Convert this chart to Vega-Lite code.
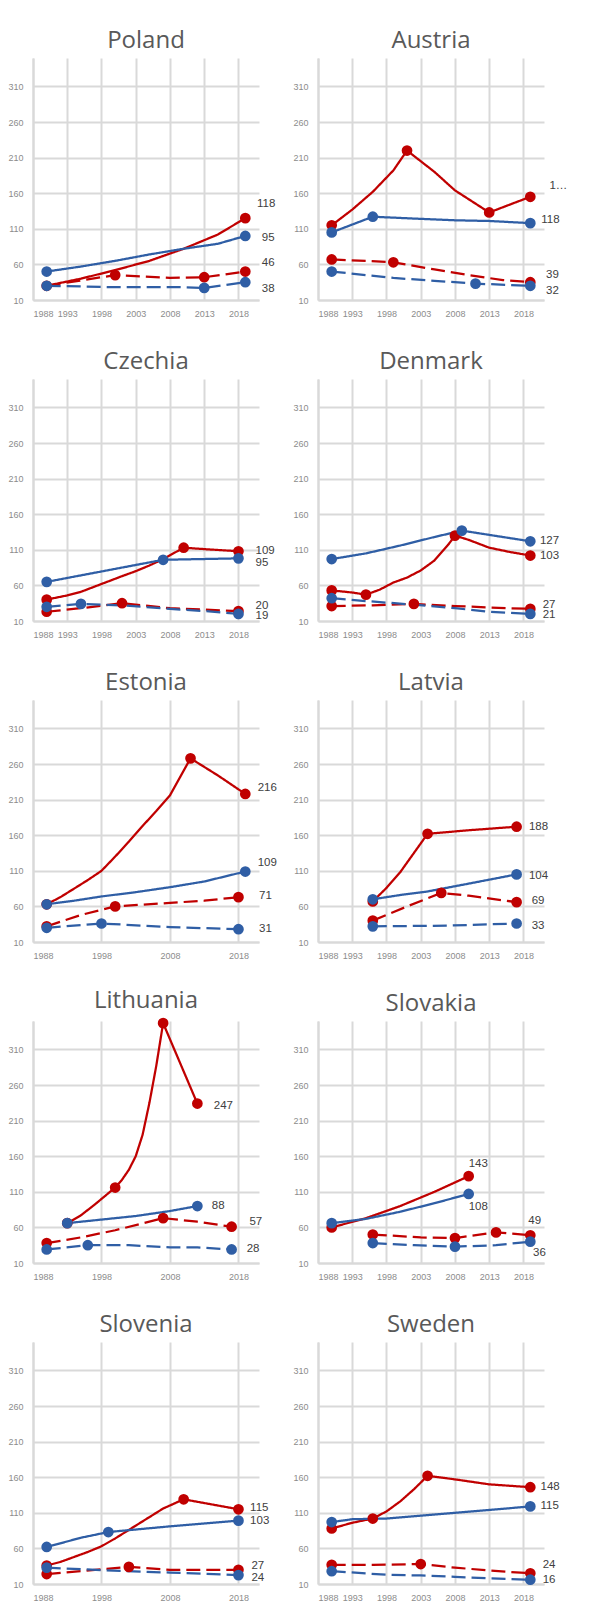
{
"$schema": "https://vega.github.io/schema/vega-lite/v6.json",
"padding": {"left": 7, "top": 29, "right": 5, "bottom": 5},
"background": "white",
"config": {
  "view": {"stroke": null},
  "font": "Liberation Sans",
  "title": {"font": "Open Sans", "fontSize": 24, "fontWeight": "normal", "color": "#595959", "offset": 5},
  "axis": {"gridColor": "#d9d9d9", "gridWidth": 2, "domainColor": "#d9d9d9", "domainWidth": 2, "ticks": false, "labelColor": "#8c8c8c", "labelFontSize": 9, "labelFont": "Liberation Sans", "grid": true},
  "axisY": {"labelPadding": 10},
  "axisX": {"labelPadding": 9}
},
"datasets": {
"lines": [
{"country":"Poland","series":"S1","year":1990,"value":30},{"country":"Poland","series":"S1","year":1995,"value":40},{"country":"Poland","series":"S1","year":2000,"value":52},{"country":"Poland","series":"S1","year":2005,"value":65},{"country":"Poland","series":"S1","year":2010,"value":82},{"country":"Poland","series":"S1","year":2015,"value":102},{"country":"Poland","series":"S1","year":2019,"value":125},
{"country":"Poland","series":"S2","year":1990,"value":50},{"country":"Poland","series":"S2","year":1995,"value":57},{"country":"Poland","series":"S2","year":2000,"value":65},{"country":"Poland","series":"S2","year":2005,"value":74},{"country":"Poland","series":"S2","year":2010,"value":82},{"country":"Poland","series":"S2","year":2015,"value":89},{"country":"Poland","series":"S2","year":2019,"value":100},
{"country":"Poland","series":"S3","year":1990,"value":30},{"country":"Poland","series":"S3","year":2000,"value":45},{"country":"Poland","series":"S3","year":2008,"value":41},{"country":"Poland","series":"S3","year":2013,"value":42},{"country":"Poland","series":"S3","year":2019,"value":50},
{"country":"Poland","series":"S4","year":1990,"value":30},{"country":"Poland","series":"S4","year":1995,"value":29},{"country":"Poland","series":"S4","year":2000,"value":28},{"country":"Poland","series":"S4","year":2005,"value":28},{"country":"Poland","series":"S4","year":2010,"value":28},{"country":"Poland","series":"S4","year":2013,"value":27},{"country":"Poland","series":"S4","year":2019,"value":35},

{"country":"Austria","series":"S1","year":1990,"value":115},{"country":"Austria","series":"S1","year":1993,"value":137},{"country":"Austria","series":"S1","year":1996,"value":162},{"country":"Austria","series":"S1","year":1999,"value":192},{"country":"Austria","series":"S1","year":2001,"value":220},{"country":"Austria","series":"S1","year":2005,"value":190},{"country":"Austria","series":"S1","year":2008,"value":164},{"country":"Austria","series":"S1","year":2013,"value":133},{"country":"Austria","series":"S1","year":2019,"value":155},
{"country":"Austria","series":"S2","year":1990,"value":105},{"country":"Austria","series":"S2","year":1996,"value":127},{"country":"Austria","series":"S2","year":2003,"value":124},{"country":"Austria","series":"S2","year":2008,"value":122},{"country":"Austria","series":"S2","year":2013,"value":121},{"country":"Austria","series":"S2","year":2019,"value":118},
{"country":"Austria","series":"S3","year":1990,"value":67},{"country":"Austria","series":"S3","year":1995,"value":65},{"country":"Austria","series":"S3","year":1999,"value":63},{"country":"Austria","series":"S3","year":2005,"value":53},{"country":"Austria","series":"S3","year":2010,"value":45},{"country":"Austria","series":"S3","year":2015,"value":38},{"country":"Austria","series":"S3","year":2019,"value":35},
{"country":"Austria","series":"S4","year":1990,"value":50},{"country":"Austria","series":"S4","year":1995,"value":45},{"country":"Austria","series":"S4","year":1999,"value":41},{"country":"Austria","series":"S4","year":2005,"value":37},{"country":"Austria","series":"S4","year":2011,"value":33},{"country":"Austria","series":"S4","year":2019,"value":30},

{"country":"Czechia","series":"S1","year":1990,"value":40},{"country":"Czechia","series":"S1","year":1993,"value":46},{"country":"Czechia","series":"S1","year":1995,"value":51},{"country":"Czechia","series":"S1","year":1998,"value":62},{"country":"Czechia","series":"S1","year":2001,"value":73},{"country":"Czechia","series":"S1","year":2003,"value":80},{"country":"Czechia","series":"S1","year":2005,"value":88},{"country":"Czechia","series":"S1","year":2007,"value":97},{"country":"Czechia","series":"S1","year":2010,"value":113},{"country":"Czechia","series":"S1","year":2013,"value":111},{"country":"Czechia","series":"S1","year":2018,"value":108},
{"country":"Czechia","series":"S2","year":1990,"value":65},{"country":"Czechia","series":"S2","year":2007,"value":96},{"country":"Czechia","series":"S2","year":2018,"value":98},
{"country":"Czechia","series":"S3","year":1990,"value":23},{"country":"Czechia","series":"S3","year":1995,"value":28},{"country":"Czechia","series":"S3","year":2001,"value":35},{"country":"Czechia","series":"S3","year":2008,"value":28},{"country":"Czechia","series":"S3","year":2013,"value":26},{"country":"Czechia","series":"S3","year":2018,"value":24},
{"country":"Czechia","series":"S4","year":1990,"value":30},{"country":"Czechia","series":"S4","year":1995,"value":34},{"country":"Czechia","series":"S4","year":2001,"value":32},{"country":"Czechia","series":"S4","year":2008,"value":27},{"country":"Czechia","series":"S4","year":2013,"value":24},{"country":"Czechia","series":"S4","year":2018,"value":20},

{"country":"Denmark","series":"S1","year":1990,"value":53},{"country":"Denmark","series":"S1","year":1993,"value":50},{"country":"Denmark","series":"S1","year":1995,"value":47},{"country":"Denmark","series":"S1","year":1997,"value":54},{"country":"Denmark","series":"S1","year":1999,"value":64},{"country":"Denmark","series":"S1","year":2001,"value":71},{"country":"Denmark","series":"S1","year":2003,"value":81},{"country":"Denmark","series":"S1","year":2005,"value":95},{"country":"Denmark","series":"S1","year":2007,"value":117},{"country":"Denmark","series":"S1","year":2008,"value":130},{"country":"Denmark","series":"S1","year":2010,"value":124},{"country":"Denmark","series":"S1","year":2013,"value":113},{"country":"Denmark","series":"S1","year":2016,"value":107},{"country":"Denmark","series":"S1","year":2019,"value":102},
{"country":"Denmark","series":"S2","year":1990,"value":97},{"country":"Denmark","series":"S2","year":1995,"value":105},{"country":"Denmark","series":"S2","year":2000,"value":116},{"country":"Denmark","series":"S2","year":2005,"value":128},{"country":"Denmark","series":"S2","year":2009,"value":137},{"country":"Denmark","series":"S2","year":2013,"value":131},{"country":"Denmark","series":"S2","year":2019,"value":122},
{"country":"Denmark","series":"S3","year":1990,"value":31},{"country":"Denmark","series":"S3","year":1996,"value":32},{"country":"Denmark","series":"S3","year":2002,"value":34},{"country":"Denmark","series":"S3","year":2008,"value":31},{"country":"Denmark","series":"S3","year":2013,"value":29},{"country":"Denmark","series":"S3","year":2019,"value":27},
{"country":"Denmark","series":"S4","year":1990,"value":42},{"country":"Denmark","series":"S4","year":1995,"value":38},{"country":"Denmark","series":"S4","year":2002,"value":33},{"country":"Denmark","series":"S4","year":2008,"value":28},{"country":"Denmark","series":"S4","year":2013,"value":23},{"country":"Denmark","series":"S4","year":2019,"value":20},

{"country":"Estonia","series":"S1","year":1990,"value":63},{"country":"Estonia","series":"S1","year":1992,"value":73},{"country":"Estonia","series":"S1","year":1994,"value":85},{"country":"Estonia","series":"S1","year":1996,"value":97},{"country":"Estonia","series":"S1","year":1998,"value":110},{"country":"Estonia","series":"S1","year":2000,"value":130},{"country":"Estonia","series":"S1","year":2002,"value":151},{"country":"Estonia","series":"S1","year":2004,"value":173},{"country":"Estonia","series":"S1","year":2006,"value":194},{"country":"Estonia","series":"S1","year":2008,"value":216},{"country":"Estonia","series":"S1","year":2009.5,"value":242},{"country":"Estonia","series":"S1","year":2011,"value":268},{"country":"Estonia","series":"S1","year":2015,"value":244},{"country":"Estonia","series":"S1","year":2019,"value":218},
{"country":"Estonia","series":"S2","year":1990,"value":63},{"country":"Estonia","series":"S2","year":1994,"value":68},{"country":"Estonia","series":"S2","year":1998,"value":74},{"country":"Estonia","series":"S2","year":2003,"value":80},{"country":"Estonia","series":"S2","year":2008,"value":87},{"country":"Estonia","series":"S2","year":2013,"value":95},{"country":"Estonia","series":"S2","year":2019,"value":109},
{"country":"Estonia","series":"S3","year":1990,"value":32},{"country":"Estonia","series":"S3","year":1995,"value":48},{"country":"Estonia","series":"S3","year":2000,"value":60},{"country":"Estonia","series":"S3","year":2008,"value":65},{"country":"Estonia","series":"S3","year":2013,"value":68},{"country":"Estonia","series":"S3","year":2018,"value":73},
{"country":"Estonia","series":"S4","year":1990,"value":30},{"country":"Estonia","series":"S4","year":1998,"value":36},{"country":"Estonia","series":"S4","year":2008,"value":31},{"country":"Estonia","series":"S4","year":2018,"value":28},

{"country":"Latvia","series":"S1","year":1996,"value":67},{"country":"Latvia","series":"S1","year":1998,"value":86},{"country":"Latvia","series":"S1","year":2000,"value":108},{"country":"Latvia","series":"S1","year":2002,"value":135},{"country":"Latvia","series":"S1","year":2004,"value":162},{"country":"Latvia","series":"S1","year":2010,"value":167},{"country":"Latvia","series":"S1","year":2017,"value":172},
{"country":"Latvia","series":"S2","year":1996,"value":70},{"country":"Latvia","series":"S2","year":2000,"value":76},{"country":"Latvia","series":"S2","year":2004,"value":81},{"country":"Latvia","series":"S2","year":2010,"value":92},{"country":"Latvia","series":"S2","year":2017,"value":105},
{"country":"Latvia","series":"S3","year":1996,"value":40},{"country":"Latvia","series":"S3","year":2001,"value":60},{"country":"Latvia","series":"S3","year":2006,"value":79},{"country":"Latvia","series":"S3","year":2010,"value":75},{"country":"Latvia","series":"S3","year":2017,"value":66},
{"country":"Latvia","series":"S4","year":1996,"value":32},{"country":"Latvia","series":"S4","year":2007,"value":33},{"country":"Latvia","series":"S4","year":2017,"value":36},

{"country":"Lithuania","series":"S1","year":1993,"value":66},{"country":"Lithuania","series":"S1","year":1995,"value":77},{"country":"Lithuania","series":"S1","year":1997,"value":92},{"country":"Lithuania","series":"S1","year":2000,"value":116},{"country":"Lithuania","series":"S1","year":2001,"value":127},{"country":"Lithuania","series":"S1","year":2002,"value":141},{"country":"Lithuania","series":"S1","year":2003,"value":160},{"country":"Lithuania","series":"S1","year":2004,"value":190},{"country":"Lithuania","series":"S1","year":2005,"value":235},{"country":"Lithuania","series":"S1","year":2006,"value":287},{"country":"Lithuania","series":"S1","year":2007,"value":347},{"country":"Lithuania","series":"S1","year":2012,"value":234},
{"country":"Lithuania","series":"S2","year":1993,"value":66},{"country":"Lithuania","series":"S2","year":1998,"value":71},{"country":"Lithuania","series":"S2","year":2003,"value":76},{"country":"Lithuania","series":"S2","year":2008,"value":83},{"country":"Lithuania","series":"S2","year":2012,"value":90},
{"country":"Lithuania","series":"S3","year":1990,"value":38},{"country":"Lithuania","series":"S3","year":1995,"value":46},{"country":"Lithuania","series":"S3","year":2000,"value":56},{"country":"Lithuania","series":"S3","year":2007,"value":73},{"country":"Lithuania","series":"S3","year":2012,"value":68},{"country":"Lithuania","series":"S3","year":2017,"value":61},
{"country":"Lithuania","series":"S4","year":1990,"value":29},{"country":"Lithuania","series":"S4","year":1996,"value":35},{"country":"Lithuania","series":"S4","year":2002,"value":35},{"country":"Lithuania","series":"S4","year":2008,"value":32},{"country":"Lithuania","series":"S4","year":2012,"value":32},{"country":"Lithuania","series":"S4","year":2017,"value":29},

{"country":"Slovakia","series":"S1","year":1990,"value":60},{"country":"Slovakia","series":"S1","year":1995,"value":73},{"country":"Slovakia","series":"S1","year":2000,"value":90},{"country":"Slovakia","series":"S1","year":2005,"value":110},{"country":"Slovakia","series":"S1","year":2010,"value":132},
{"country":"Slovakia","series":"S2","year":1990,"value":66},{"country":"Slovakia","series":"S2","year":1995,"value":72},{"country":"Slovakia","series":"S2","year":2000,"value":82},{"country":"Slovakia","series":"S2","year":2005,"value":94},{"country":"Slovakia","series":"S2","year":2010,"value":107},
{"country":"Slovakia","series":"S3","year":1996,"value":50},{"country":"Slovakia","series":"S3","year":2003,"value":46},{"country":"Slovakia","series":"S3","year":2008,"value":45},{"country":"Slovakia","series":"S3","year":2014,"value":53},{"country":"Slovakia","series":"S3","year":2019,"value":49},
{"country":"Slovakia","series":"S4","year":1996,"value":38},{"country":"Slovakia","series":"S4","year":2002,"value":35},{"country":"Slovakia","series":"S4","year":2008,"value":33},{"country":"Slovakia","series":"S4","year":2014,"value":35},{"country":"Slovakia","series":"S4","year":2019,"value":40},

{"country":"Slovenia","series":"S1","year":1990,"value":36},{"country":"Slovenia","series":"S1","year":1992,"value":41},{"country":"Slovenia","series":"S1","year":1994,"value":48},{"country":"Slovenia","series":"S1","year":1996,"value":55},{"country":"Slovenia","series":"S1","year":1998,"value":63},{"country":"Slovenia","series":"S1","year":2000,"value":74},{"country":"Slovenia","series":"S1","year":2003,"value":92},{"country":"Slovenia","series":"S1","year":2005,"value":104},{"country":"Slovenia","series":"S1","year":2007,"value":116},{"country":"Slovenia","series":"S1","year":2010,"value":129},{"country":"Slovenia","series":"S1","year":2018,"value":115},
{"country":"Slovenia","series":"S2","year":1990,"value":62},{"country":"Slovenia","series":"S2","year":1995,"value":75},{"country":"Slovenia","series":"S2","year":1999,"value":83},{"country":"Slovenia","series":"S2","year":2008,"value":91},{"country":"Slovenia","series":"S2","year":2018,"value":99},
{"country":"Slovenia","series":"S3","year":1990,"value":24},{"country":"Slovenia","series":"S3","year":2002,"value":34},{"country":"Slovenia","series":"S3","year":2008,"value":30},{"country":"Slovenia","series":"S3","year":2018,"value":30},
{"country":"Slovenia","series":"S4","year":1990,"value":33},{"country":"Slovenia","series":"S4","year":1998,"value":29.5},{"country":"Slovenia","series":"S4","year":2008,"value":26},{"country":"Slovenia","series":"S4","year":2018,"value":22.5},

{"country":"Sweden","series":"S1","year":1990,"value":88},{"country":"Sweden","series":"S1","year":1993,"value":96},{"country":"Sweden","series":"S1","year":1996,"value":102},{"country":"Sweden","series":"S1","year":1998,"value":112},{"country":"Sweden","series":"S1","year":2000,"value":126},{"country":"Sweden","series":"S1","year":2002,"value":143},{"country":"Sweden","series":"S1","year":2004,"value":162},{"country":"Sweden","series":"S1","year":2008,"value":157},{"country":"Sweden","series":"S1","year":2013,"value":150},{"country":"Sweden","series":"S1","year":2019,"value":146},
{"country":"Sweden","series":"S2","year":1990,"value":97},{"country":"Sweden","series":"S2","year":1993,"value":101},{"country":"Sweden","series":"S2","year":1998,"value":102},{"country":"Sweden","series":"S2","year":2003,"value":106},{"country":"Sweden","series":"S2","year":2008,"value":110},{"country":"Sweden","series":"S2","year":2013,"value":114},{"country":"Sweden","series":"S2","year":2019,"value":119},
{"country":"Sweden","series":"S3","year":1990,"value":37},{"country":"Sweden","series":"S3","year":1996,"value":37},{"country":"Sweden","series":"S3","year":2003,"value":38},{"country":"Sweden","series":"S3","year":2008,"value":33},{"country":"Sweden","series":"S3","year":2013,"value":29},{"country":"Sweden","series":"S3","year":2019,"value":25},
{"country":"Sweden","series":"S4","year":1990,"value":28},{"country":"Sweden","series":"S4","year":1998,"value":23},{"country":"Sweden","series":"S4","year":2003,"value":22},{"country":"Sweden","series":"S4","year":2008,"value":20},{"country":"Sweden","series":"S4","year":2013,"value":18},{"country":"Sweden","series":"S4","year":2019,"value":16}
],
"markers": [
{"country":"Poland","series":"S1","year":1990,"value":30},{"country":"Poland","series":"S1","year":2019,"value":125},{"country":"Poland","series":"S2","year":1990,"value":50},{"country":"Poland","series":"S2","year":2019,"value":100},{"country":"Poland","series":"S3","year":2000,"value":45},{"country":"Poland","series":"S3","year":2013,"value":42},{"country":"Poland","series":"S3","year":2019,"value":50},{"country":"Poland","series":"S4","year":1990,"value":30},{"country":"Poland","series":"S4","year":2013,"value":27},{"country":"Poland","series":"S4","year":2019,"value":35},
{"country":"Austria","series":"S1","year":1990,"value":115},{"country":"Austria","series":"S1","year":2001,"value":220},{"country":"Austria","series":"S1","year":2013,"value":133},{"country":"Austria","series":"S1","year":2019,"value":155},{"country":"Austria","series":"S2","year":1990,"value":105},{"country":"Austria","series":"S2","year":1996,"value":127},{"country":"Austria","series":"S2","year":2019,"value":118},{"country":"Austria","series":"S3","year":1990,"value":67},{"country":"Austria","series":"S3","year":1999,"value":63},{"country":"Austria","series":"S3","year":2019,"value":35},{"country":"Austria","series":"S4","year":1990,"value":50},{"country":"Austria","series":"S4","year":2011,"value":33},{"country":"Austria","series":"S4","year":2019,"value":30},
{"country":"Czechia","series":"S1","year":1990,"value":40},{"country":"Czechia","series":"S1","year":2010,"value":113},{"country":"Czechia","series":"S1","year":2018,"value":108},{"country":"Czechia","series":"S2","year":1990,"value":65},{"country":"Czechia","series":"S2","year":2007,"value":96},{"country":"Czechia","series":"S2","year":2018,"value":98},{"country":"Czechia","series":"S3","year":1990,"value":23},{"country":"Czechia","series":"S3","year":2001,"value":35},{"country":"Czechia","series":"S3","year":2018,"value":24},{"country":"Czechia","series":"S4","year":1990,"value":30},{"country":"Czechia","series":"S4","year":1995,"value":34},{"country":"Czechia","series":"S4","year":2018,"value":20},
{"country":"Denmark","series":"S1","year":1990,"value":53},{"country":"Denmark","series":"S1","year":1995,"value":47},{"country":"Denmark","series":"S1","year":2008,"value":130},{"country":"Denmark","series":"S1","year":2019,"value":102},{"country":"Denmark","series":"S2","year":1990,"value":97},{"country":"Denmark","series":"S2","year":2009,"value":137},{"country":"Denmark","series":"S2","year":2019,"value":122},{"country":"Denmark","series":"S3","year":1990,"value":31},{"country":"Denmark","series":"S3","year":2002,"value":34},{"country":"Denmark","series":"S3","year":2019,"value":27},{"country":"Denmark","series":"S4","year":1990,"value":42},{"country":"Denmark","series":"S4","year":2019,"value":20},
{"country":"Estonia","series":"S1","year":1990,"value":63},{"country":"Estonia","series":"S1","year":2011,"value":268},{"country":"Estonia","series":"S1","year":2019,"value":218},{"country":"Estonia","series":"S2","year":1990,"value":63},{"country":"Estonia","series":"S2","year":2019,"value":109},{"country":"Estonia","series":"S3","year":1990,"value":32},{"country":"Estonia","series":"S3","year":2000,"value":60},{"country":"Estonia","series":"S3","year":2018,"value":73},{"country":"Estonia","series":"S4","year":1990,"value":30},{"country":"Estonia","series":"S4","year":1998,"value":36},{"country":"Estonia","series":"S4","year":2018,"value":28},
{"country":"Latvia","series":"S1","year":1996,"value":67},{"country":"Latvia","series":"S1","year":2004,"value":162},{"country":"Latvia","series":"S1","year":2017,"value":172},{"country":"Latvia","series":"S2","year":1996,"value":70},{"country":"Latvia","series":"S2","year":2017,"value":105},{"country":"Latvia","series":"S3","year":1996,"value":40},{"country":"Latvia","series":"S3","year":2006,"value":79},{"country":"Latvia","series":"S3","year":2017,"value":66},{"country":"Latvia","series":"S4","year":1996,"value":32},{"country":"Latvia","series":"S4","year":2017,"value":36},
{"country":"Lithuania","series":"S1","year":1993,"value":66},{"country":"Lithuania","series":"S1","year":2000,"value":116},{"country":"Lithuania","series":"S1","year":2007,"value":347},{"country":"Lithuania","series":"S1","year":2012,"value":234},{"country":"Lithuania","series":"S2","year":1993,"value":66},{"country":"Lithuania","series":"S2","year":2012,"value":90},{"country":"Lithuania","series":"S3","year":1990,"value":38},{"country":"Lithuania","series":"S3","year":2007,"value":73},{"country":"Lithuania","series":"S3","year":2017,"value":61},{"country":"Lithuania","series":"S4","year":1990,"value":29},{"country":"Lithuania","series":"S4","year":1996,"value":35},{"country":"Lithuania","series":"S4","year":2017,"value":29},
{"country":"Slovakia","series":"S1","year":1990,"value":60},{"country":"Slovakia","series":"S1","year":2010,"value":132},{"country":"Slovakia","series":"S2","year":1990,"value":66},{"country":"Slovakia","series":"S2","year":2010,"value":107},{"country":"Slovakia","series":"S3","year":1996,"value":50},{"country":"Slovakia","series":"S3","year":2008,"value":45},{"country":"Slovakia","series":"S3","year":2014,"value":53},{"country":"Slovakia","series":"S3","year":2019,"value":49},{"country":"Slovakia","series":"S4","year":1996,"value":38},{"country":"Slovakia","series":"S4","year":2008,"value":33},{"country":"Slovakia","series":"S4","year":2019,"value":40},
{"country":"Slovenia","series":"S1","year":1990,"value":36},{"country":"Slovenia","series":"S1","year":2010,"value":129},{"country":"Slovenia","series":"S1","year":2018,"value":115},{"country":"Slovenia","series":"S2","year":1990,"value":62},{"country":"Slovenia","series":"S2","year":1999,"value":83},{"country":"Slovenia","series":"S2","year":2018,"value":99},{"country":"Slovenia","series":"S3","year":1990,"value":24},{"country":"Slovenia","series":"S3","year":2002,"value":34},{"country":"Slovenia","series":"S3","year":2018,"value":30},{"country":"Slovenia","series":"S4","year":1990,"value":33},{"country":"Slovenia","series":"S4","year":2018,"value":22.5},
{"country":"Sweden","series":"S1","year":1990,"value":88},{"country":"Sweden","series":"S1","year":1996,"value":102},{"country":"Sweden","series":"S1","year":2004,"value":162},{"country":"Sweden","series":"S1","year":2019,"value":146},{"country":"Sweden","series":"S2","year":1990,"value":97},{"country":"Sweden","series":"S2","year":2019,"value":119},{"country":"Sweden","series":"S3","year":1990,"value":37},{"country":"Sweden","series":"S3","year":2003,"value":38},{"country":"Sweden","series":"S3","year":2019,"value":25},{"country":"Sweden","series":"S4","year":1990,"value":28},{"country":"Sweden","series":"S4","year":2019,"value":16}
],
"labels": [
{"country":"Poland","text":"118","year":2020.7,"value":145},{"country":"Poland","text":"95","year":2021.4,"value":97},{"country":"Poland","text":"46","year":2021.4,"value":62},{"country":"Poland","text":"38","year":2021.4,"value":25},
{"country":"Austria","text":"1…","year":2021.8,"value":170},{"country":"Austria","text":"118","year":2020.6,"value":123},{"country":"Austria","text":"39","year":2021.3,"value":45},{"country":"Austria","text":"32","year":2021.3,"value":23},
{"country":"Czechia","text":"109","year":2020.5,"value":109},{"country":"Czechia","text":"95","year":2020.5,"value":92},{"country":"Czechia","text":"20","year":2020.5,"value":31},{"country":"Czechia","text":"19","year":2020.5,"value":17},
{"country":"Denmark","text":"127","year":2020.4,"value":122},{"country":"Denmark","text":"103","year":2020.4,"value":102},{"country":"Denmark","text":"27","year":2020.8,"value":33},{"country":"Denmark","text":"21","year":2020.8,"value":19},
{"country":"Estonia","text":"216","year":2020.8,"value":226},{"country":"Estonia","text":"109","year":2020.8,"value":121},{"country":"Estonia","text":"71","year":2021,"value":75},{"country":"Estonia","text":"31","year":2021,"value":28},
{"country":"Latvia","text":"188","year":2018.8,"value":172},{"country":"Latvia","text":"104","year":2018.8,"value":103},{"country":"Latvia","text":"69","year":2019.2,"value":68},{"country":"Latvia","text":"33","year":2019.2,"value":32},
{"country":"Lithuania","text":"247","year":2014.4,"value":231},{"country":"Lithuania","text":"88","year":2014.1,"value":90},{"country":"Lithuania","text":"57","year":2019.6,"value":67},{"country":"Lithuania","text":"28","year":2019.2,"value":30},
{"country":"Slovakia","text":"143","year":2010,"value":149},{"country":"Slovakia","text":"108","year":2010,"value":88},{"country":"Slovakia","text":"49","year":2018.7,"value":69},{"country":"Slovakia","text":"36","year":2019.4,"value":24},
{"country":"Slovenia","text":"115","year":2019.7,"value":117},{"country":"Slovenia","text":"103","year":2019.7,"value":99},{"country":"Slovenia","text":"27","year":2019.9,"value":35},{"country":"Slovenia","text":"24","year":2019.9,"value":19},
{"country":"Sweden","text":"148","year":2020.5,"value":146},{"country":"Sweden","text":"115","year":2020.5,"value":120},{"country":"Sweden","text":"24","year":2020.8,"value":36},{"country":"Sweden","text":"16","year":2020.8,"value":16}
]
},
"columns": 2,
"spacing": {"row": 79, "column": 59},
"bounds": "flush",
"concat": [
{"title":"Poland","width":226,"height":242,
 "encoding":{"x":{"field":"year","type":"quantitative","title":null,"scale":{"domain":[1988,2021],"nice":false,"zero":false},"axis":{"values":[1988,1993,1998,2003,2008,2013,2018],"format":"d"}},"y":{"field":"value","type":"quantitative","title":null,"scale":{"domain":[10,350],"nice":false,"zero":false},"axis":{"values":[10,60,110,160,210,260,310],"format":"d"}}},
 "layer":[
  {"data":{"name":"lines"},"transform":[{"filter":"datum.country==='Poland'"}],"mark":{"type":"line","interpolate":"linear","strokeWidth":2.25,"strokeJoin":"round"},"encoding":{"color":{"field":"series","type":"nominal","scale":{"domain":["S1","S2","S3","S4"],"range":["#c00000","#2f5ea5","#c00000","#2f5ea5"]},"legend":null},"strokeDash":{"field":"series","type":"nominal","scale":{"domain":["S1","S2","S3","S4"],"range":[[1,0],[1,0],[14,6],[14,6]]},"legend":null}}},
  {"data":{"name":"markers"},"transform":[{"filter":"datum.country==='Poland'"}],"mark":{"type":"circle","size":115,"opacity":1},"encoding":{"color":{"field":"series","type":"nominal","scale":{"domain":["S1","S2","S3","S4"],"range":["#c00000","#2f5ea5","#c00000","#2f5ea5"]},"legend":null}}},
  {"data":{"name":"labels"},"transform":[{"filter":"datum.country==='Poland'"}],"mark":{"type":"text","align":"left","baseline":"middle","fontSize":11.5,"color":"#404040"},"encoding":{"text":{"field":"text","type":"nominal"}}}
 ]},
{"title":"Austria","width":226,"height":242,
 "encoding":{"x":{"field":"year","type":"quantitative","title":null,"scale":{"domain":[1988,2021],"nice":false,"zero":false},"axis":{"values":[1988,1993,1998,2003,2008,2013,2018],"format":"d"}},"y":{"field":"value","type":"quantitative","title":null,"scale":{"domain":[10,350],"nice":false,"zero":false},"axis":{"values":[10,60,110,160,210,260,310],"format":"d"}}},
 "layer":[
  {"data":{"name":"lines"},"transform":[{"filter":"datum.country==='Austria'"}],"mark":{"type":"line","interpolate":"linear","strokeWidth":2.25,"strokeJoin":"round"},"encoding":{"color":{"field":"series","type":"nominal","scale":{"domain":["S1","S2","S3","S4"],"range":["#c00000","#2f5ea5","#c00000","#2f5ea5"]},"legend":null},"strokeDash":{"field":"series","type":"nominal","scale":{"domain":["S1","S2","S3","S4"],"range":[[1,0],[1,0],[14,6],[14,6]]},"legend":null}}},
  {"data":{"name":"markers"},"transform":[{"filter":"datum.country==='Austria'"}],"mark":{"type":"circle","size":115,"opacity":1},"encoding":{"color":{"field":"series","type":"nominal","scale":{"domain":["S1","S2","S3","S4"],"range":["#c00000","#2f5ea5","#c00000","#2f5ea5"]},"legend":null}}},
  {"data":{"name":"labels"},"transform":[{"filter":"datum.country==='Austria'"}],"mark":{"type":"text","align":"left","baseline":"middle","fontSize":11.5,"color":"#404040"},"encoding":{"text":{"field":"text","type":"nominal"}}}
 ]},
{"title":"Czechia","width":226,"height":242,
 "encoding":{"x":{"field":"year","type":"quantitative","title":null,"scale":{"domain":[1988,2021],"nice":false,"zero":false},"axis":{"values":[1988,1993,1998,2003,2008,2013,2018],"format":"d"}},"y":{"field":"value","type":"quantitative","title":null,"scale":{"domain":[10,350],"nice":false,"zero":false},"axis":{"values":[10,60,110,160,210,260,310],"format":"d"}}},
 "layer":[
  {"data":{"name":"lines"},"transform":[{"filter":"datum.country==='Czechia'"}],"mark":{"type":"line","interpolate":"linear","strokeWidth":2.25,"strokeJoin":"round"},"encoding":{"color":{"field":"series","type":"nominal","scale":{"domain":["S1","S2","S3","S4"],"range":["#c00000","#2f5ea5","#c00000","#2f5ea5"]},"legend":null},"strokeDash":{"field":"series","type":"nominal","scale":{"domain":["S1","S2","S3","S4"],"range":[[1,0],[1,0],[14,6],[14,6]]},"legend":null}}},
  {"data":{"name":"markers"},"transform":[{"filter":"datum.country==='Czechia'"}],"mark":{"type":"circle","size":115,"opacity":1},"encoding":{"color":{"field":"series","type":"nominal","scale":{"domain":["S1","S2","S3","S4"],"range":["#c00000","#2f5ea5","#c00000","#2f5ea5"]},"legend":null}}},
  {"data":{"name":"labels"},"transform":[{"filter":"datum.country==='Czechia'"}],"mark":{"type":"text","align":"left","baseline":"middle","fontSize":11.5,"color":"#404040"},"encoding":{"text":{"field":"text","type":"nominal"}}}
 ]},
{"title":"Denmark","width":226,"height":242,
 "encoding":{"x":{"field":"year","type":"quantitative","title":null,"scale":{"domain":[1988,2021],"nice":false,"zero":false},"axis":{"values":[1988,1993,1998,2003,2008,2013,2018],"format":"d"}},"y":{"field":"value","type":"quantitative","title":null,"scale":{"domain":[10,350],"nice":false,"zero":false},"axis":{"values":[10,60,110,160,210,260,310],"format":"d"}}},
 "layer":[
  {"data":{"name":"lines"},"transform":[{"filter":"datum.country==='Denmark'"}],"mark":{"type":"line","interpolate":"linear","strokeWidth":2.25,"strokeJoin":"round"},"encoding":{"color":{"field":"series","type":"nominal","scale":{"domain":["S1","S2","S3","S4"],"range":["#c00000","#2f5ea5","#c00000","#2f5ea5"]},"legend":null},"strokeDash":{"field":"series","type":"nominal","scale":{"domain":["S1","S2","S3","S4"],"range":[[1,0],[1,0],[14,6],[14,6]]},"legend":null}}},
  {"data":{"name":"markers"},"transform":[{"filter":"datum.country==='Denmark'"}],"mark":{"type":"circle","size":115,"opacity":1},"encoding":{"color":{"field":"series","type":"nominal","scale":{"domain":["S1","S2","S3","S4"],"range":["#c00000","#2f5ea5","#c00000","#2f5ea5"]},"legend":null}}},
  {"data":{"name":"labels"},"transform":[{"filter":"datum.country==='Denmark'"}],"mark":{"type":"text","align":"left","baseline":"middle","fontSize":11.5,"color":"#404040"},"encoding":{"text":{"field":"text","type":"nominal"}}}
 ]},
{"title":"Estonia","width":226,"height":242,
 "encoding":{"x":{"field":"year","type":"quantitative","title":null,"scale":{"domain":[1988,2021],"nice":false,"zero":false},"axis":{"values":[1988,1998,2008,2018],"format":"d"}},"y":{"field":"value","type":"quantitative","title":null,"scale":{"domain":[10,350],"nice":false,"zero":false},"axis":{"values":[10,60,110,160,210,260,310],"format":"d"}}},
 "layer":[
  {"data":{"name":"lines"},"transform":[{"filter":"datum.country==='Estonia'"}],"mark":{"type":"line","interpolate":"linear","strokeWidth":2.25,"strokeJoin":"round"},"encoding":{"color":{"field":"series","type":"nominal","scale":{"domain":["S1","S2","S3","S4"],"range":["#c00000","#2f5ea5","#c00000","#2f5ea5"]},"legend":null},"strokeDash":{"field":"series","type":"nominal","scale":{"domain":["S1","S2","S3","S4"],"range":[[1,0],[1,0],[14,6],[14,6]]},"legend":null}}},
  {"data":{"name":"markers"},"transform":[{"filter":"datum.country==='Estonia'"}],"mark":{"type":"circle","size":115,"opacity":1},"encoding":{"color":{"field":"series","type":"nominal","scale":{"domain":["S1","S2","S3","S4"],"range":["#c00000","#2f5ea5","#c00000","#2f5ea5"]},"legend":null}}},
  {"data":{"name":"labels"},"transform":[{"filter":"datum.country==='Estonia'"}],"mark":{"type":"text","align":"left","baseline":"middle","fontSize":11.5,"color":"#404040"},"encoding":{"text":{"field":"text","type":"nominal"}}}
 ]},
{"title":"Latvia","width":226,"height":242,
 "encoding":{"x":{"field":"year","type":"quantitative","title":null,"scale":{"domain":[1988,2021],"nice":false,"zero":false},"axis":{"values":[1988,1993,1998,2003,2008,2013,2018],"format":"d"}},"y":{"field":"value","type":"quantitative","title":null,"scale":{"domain":[10,350],"nice":false,"zero":false},"axis":{"values":[10,60,110,160,210,260,310],"format":"d"}}},
 "layer":[
  {"data":{"name":"lines"},"transform":[{"filter":"datum.country==='Latvia'"}],"mark":{"type":"line","interpolate":"linear","strokeWidth":2.25,"strokeJoin":"round"},"encoding":{"color":{"field":"series","type":"nominal","scale":{"domain":["S1","S2","S3","S4"],"range":["#c00000","#2f5ea5","#c00000","#2f5ea5"]},"legend":null},"strokeDash":{"field":"series","type":"nominal","scale":{"domain":["S1","S2","S3","S4"],"range":[[1,0],[1,0],[14,6],[14,6]]},"legend":null}}},
  {"data":{"name":"markers"},"transform":[{"filter":"datum.country==='Latvia'"}],"mark":{"type":"circle","size":115,"opacity":1},"encoding":{"color":{"field":"series","type":"nominal","scale":{"domain":["S1","S2","S3","S4"],"range":["#c00000","#2f5ea5","#c00000","#2f5ea5"]},"legend":null}}},
  {"data":{"name":"labels"},"transform":[{"filter":"datum.country==='Latvia'"}],"mark":{"type":"text","align":"left","baseline":"middle","fontSize":11.5,"color":"#404040"},"encoding":{"text":{"field":"text","type":"nominal"}}}
 ]},
{"title":"Lithuania","width":226,"height":242,
 "encoding":{"x":{"field":"year","type":"quantitative","title":null,"scale":{"domain":[1988,2021],"nice":false,"zero":false},"axis":{"values":[1988,1998,2008,2018],"format":"d"}},"y":{"field":"value","type":"quantitative","title":null,"scale":{"domain":[10,350],"nice":false,"zero":false},"axis":{"values":[10,60,110,160,210,260,310],"format":"d"}}},
 "layer":[
  {"data":{"name":"lines"},"transform":[{"filter":"datum.country==='Lithuania'"}],"mark":{"type":"line","interpolate":"linear","strokeWidth":2.25,"strokeJoin":"round"},"encoding":{"color":{"field":"series","type":"nominal","scale":{"domain":["S1","S2","S3","S4"],"range":["#c00000","#2f5ea5","#c00000","#2f5ea5"]},"legend":null},"strokeDash":{"field":"series","type":"nominal","scale":{"domain":["S1","S2","S3","S4"],"range":[[1,0],[1,0],[14,6],[14,6]]},"legend":null}}},
  {"data":{"name":"markers"},"transform":[{"filter":"datum.country==='Lithuania'"}],"mark":{"type":"circle","size":115,"opacity":1},"encoding":{"color":{"field":"series","type":"nominal","scale":{"domain":["S1","S2","S3","S4"],"range":["#c00000","#2f5ea5","#c00000","#2f5ea5"]},"legend":null}}},
  {"data":{"name":"labels"},"transform":[{"filter":"datum.country==='Lithuania'"}],"mark":{"type":"text","align":"left","baseline":"middle","fontSize":11.5,"color":"#404040"},"encoding":{"text":{"field":"text","type":"nominal"}}}
 ]},
{"title":"Slovakia","width":226,"height":242,
 "encoding":{"x":{"field":"year","type":"quantitative","title":null,"scale":{"domain":[1988,2021],"nice":false,"zero":false},"axis":{"values":[1988,1993,1998,2003,2008,2013,2018],"format":"d"}},"y":{"field":"value","type":"quantitative","title":null,"scale":{"domain":[10,350],"nice":false,"zero":false},"axis":{"values":[10,60,110,160,210,260,310],"format":"d"}}},
 "layer":[
  {"data":{"name":"lines"},"transform":[{"filter":"datum.country==='Slovakia'"}],"mark":{"type":"line","interpolate":"linear","strokeWidth":2.25,"strokeJoin":"round"},"encoding":{"color":{"field":"series","type":"nominal","scale":{"domain":["S1","S2","S3","S4"],"range":["#c00000","#2f5ea5","#c00000","#2f5ea5"]},"legend":null},"strokeDash":{"field":"series","type":"nominal","scale":{"domain":["S1","S2","S3","S4"],"range":[[1,0],[1,0],[14,6],[14,6]]},"legend":null}}},
  {"data":{"name":"markers"},"transform":[{"filter":"datum.country==='Slovakia'"}],"mark":{"type":"circle","size":115,"opacity":1},"encoding":{"color":{"field":"series","type":"nominal","scale":{"domain":["S1","S2","S3","S4"],"range":["#c00000","#2f5ea5","#c00000","#2f5ea5"]},"legend":null}}},
  {"data":{"name":"labels"},"transform":[{"filter":"datum.country==='Slovakia'"}],"mark":{"type":"text","align":"left","baseline":"middle","fontSize":11.5,"color":"#404040"},"encoding":{"text":{"field":"text","type":"nominal"}}}
 ]},
{"title":"Slovenia","width":226,"height":242,
 "encoding":{"x":{"field":"year","type":"quantitative","title":null,"scale":{"domain":[1988,2021],"nice":false,"zero":false},"axis":{"values":[1988,1998,2008,2018],"format":"d"}},"y":{"field":"value","type":"quantitative","title":null,"scale":{"domain":[10,350],"nice":false,"zero":false},"axis":{"values":[10,60,110,160,210,260,310],"format":"d"}}},
 "layer":[
  {"data":{"name":"lines"},"transform":[{"filter":"datum.country==='Slovenia'"}],"mark":{"type":"line","interpolate":"linear","strokeWidth":2.25,"strokeJoin":"round"},"encoding":{"color":{"field":"series","type":"nominal","scale":{"domain":["S1","S2","S3","S4"],"range":["#c00000","#2f5ea5","#c00000","#2f5ea5"]},"legend":null},"strokeDash":{"field":"series","type":"nominal","scale":{"domain":["S1","S2","S3","S4"],"range":[[1,0],[1,0],[14,6],[14,6]]},"legend":null}}},
  {"data":{"name":"markers"},"transform":[{"filter":"datum.country==='Slovenia'"}],"mark":{"type":"circle","size":115,"opacity":1},"encoding":{"color":{"field":"series","type":"nominal","scale":{"domain":["S1","S2","S3","S4"],"range":["#c00000","#2f5ea5","#c00000","#2f5ea5"]},"legend":null}}},
  {"data":{"name":"labels"},"transform":[{"filter":"datum.country==='Slovenia'"}],"mark":{"type":"text","align":"left","baseline":"middle","fontSize":11.5,"color":"#404040"},"encoding":{"text":{"field":"text","type":"nominal"}}}
 ]},
{"title":"Sweden","width":226,"height":242,
 "encoding":{"x":{"field":"year","type":"quantitative","title":null,"scale":{"domain":[1988,2021],"nice":false,"zero":false},"axis":{"values":[1988,1993,1998,2003,2008,2013,2018],"format":"d"}},"y":{"field":"value","type":"quantitative","title":null,"scale":{"domain":[10,350],"nice":false,"zero":false},"axis":{"values":[10,60,110,160,210,260,310],"format":"d"}}},
 "layer":[
  {"data":{"name":"lines"},"transform":[{"filter":"datum.country==='Sweden'"}],"mark":{"type":"line","interpolate":"linear","strokeWidth":2.25,"strokeJoin":"round"},"encoding":{"color":{"field":"series","type":"nominal","scale":{"domain":["S1","S2","S3","S4"],"range":["#c00000","#2f5ea5","#c00000","#2f5ea5"]},"legend":null},"strokeDash":{"field":"series","type":"nominal","scale":{"domain":["S1","S2","S3","S4"],"range":[[1,0],[1,0],[14,6],[14,6]]},"legend":null}}},
  {"data":{"name":"markers"},"transform":[{"filter":"datum.country==='Sweden'"}],"mark":{"type":"circle","size":115,"opacity":1},"encoding":{"color":{"field":"series","type":"nominal","scale":{"domain":["S1","S2","S3","S4"],"range":["#c00000","#2f5ea5","#c00000","#2f5ea5"]},"legend":null}}},
  {"data":{"name":"labels"},"transform":[{"filter":"datum.country==='Sweden'"}],"mark":{"type":"text","align":"left","baseline":"middle","fontSize":11.5,"color":"#404040"},"encoding":{"text":{"field":"text","type":"nominal"}}}
 ]}
]
}
